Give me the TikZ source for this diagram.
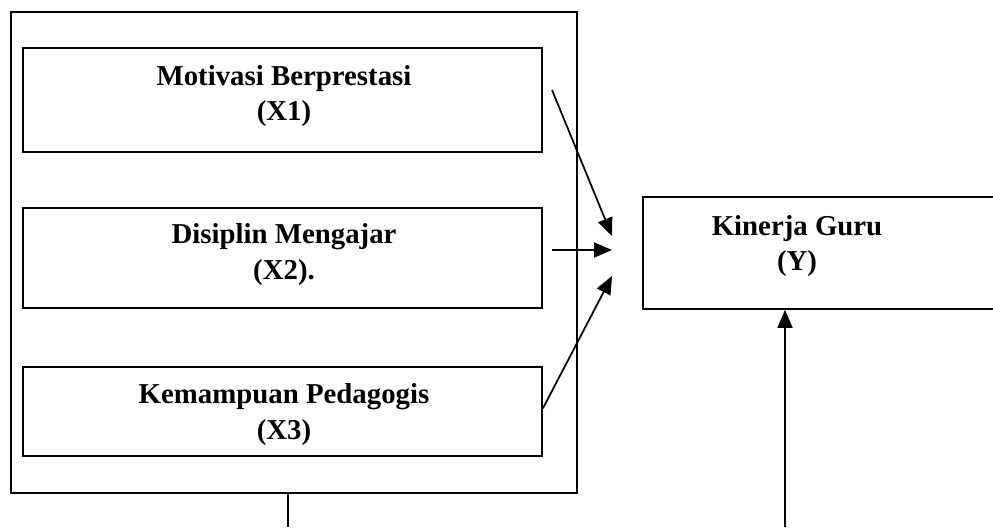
\documentclass[tikz,border=0pt]{standalone}
\usepackage{fontspec}
\setmainfont{Liberation Serif}
\usetikzlibrary{arrows.meta,positioning,calc}
\tikzset{every picture/.style={line width=1pt}}
\tikzset{
  kotak/.style={draw, inner sep=0pt},
  judul/.style={align=center, font=\fontsize{16.4}{20.4}\selectfont\bfseries},
  panah/.style={-{Triangle[length=0.36cm,width=0.3cm]}}
}

\begin{document}
\begin{tikzpicture}[x=0.02cm, y=-0.02cm]
    \useasboundingbox (0,0) rectangle (993,527);

    % kotak luar variabel bebas
    \node[kotak, minimum width=11.32cm, minimum height=9.62cm] (luar) at (294,252.5) {};

    % variabel X1, X2, X3
    \node[kotak, minimum width=10.38cm, minimum height=2.08cm] (x1) at (282.5,100) {};
    \node[judul] (x1teks) at (284,96) {Motivasi Berprestasi\\(X1)};
    \node[kotak, minimum width=10.38cm, minimum height=2.0cm] (x2) at (282.5,258) {};
    \node[judul] (x2teks) at (284,254.5) {Disiplin Mengajar\\(X2).};
    \node[kotak, minimum width=10.38cm, minimum height=1.78cm] (x3) at (282.5,411.5) {};
    \node[judul] (x3teks) at (284,414.5) {Kemampuan Pedagogis\\(X3)};

    % variabel Y
    \node[kotak, minimum width=7.2cm, minimum height=2.24cm] (y) at (823,253) {};
    \node[judul] (yteks) at (797,246) {Kinerja Guru\\(Y)};

    % panah ke Y
    \coordinate (s1) at (552,90);
    \coordinate (s2) at (552,250);
    \coordinate (t1) at (612,236);
    \coordinate (t2) at (612,250);
    \coordinate (t3) at (612,276);
    \draw[panah] (s1) -- (t1);
    \draw[panah] (s2) -- (t2);
    \draw[panah] ([yshift=0.06cm]x3.east) -- (t3);

    % garis bawah
    \coordinate (b1) at (288,527);
    \coordinate (b2) at (785,527);
    \draw (luar.south -| b1) -- (b1);
    \draw[panah] (b2) -- (b2 |- y.south);
\end{tikzpicture}
\end{document}
